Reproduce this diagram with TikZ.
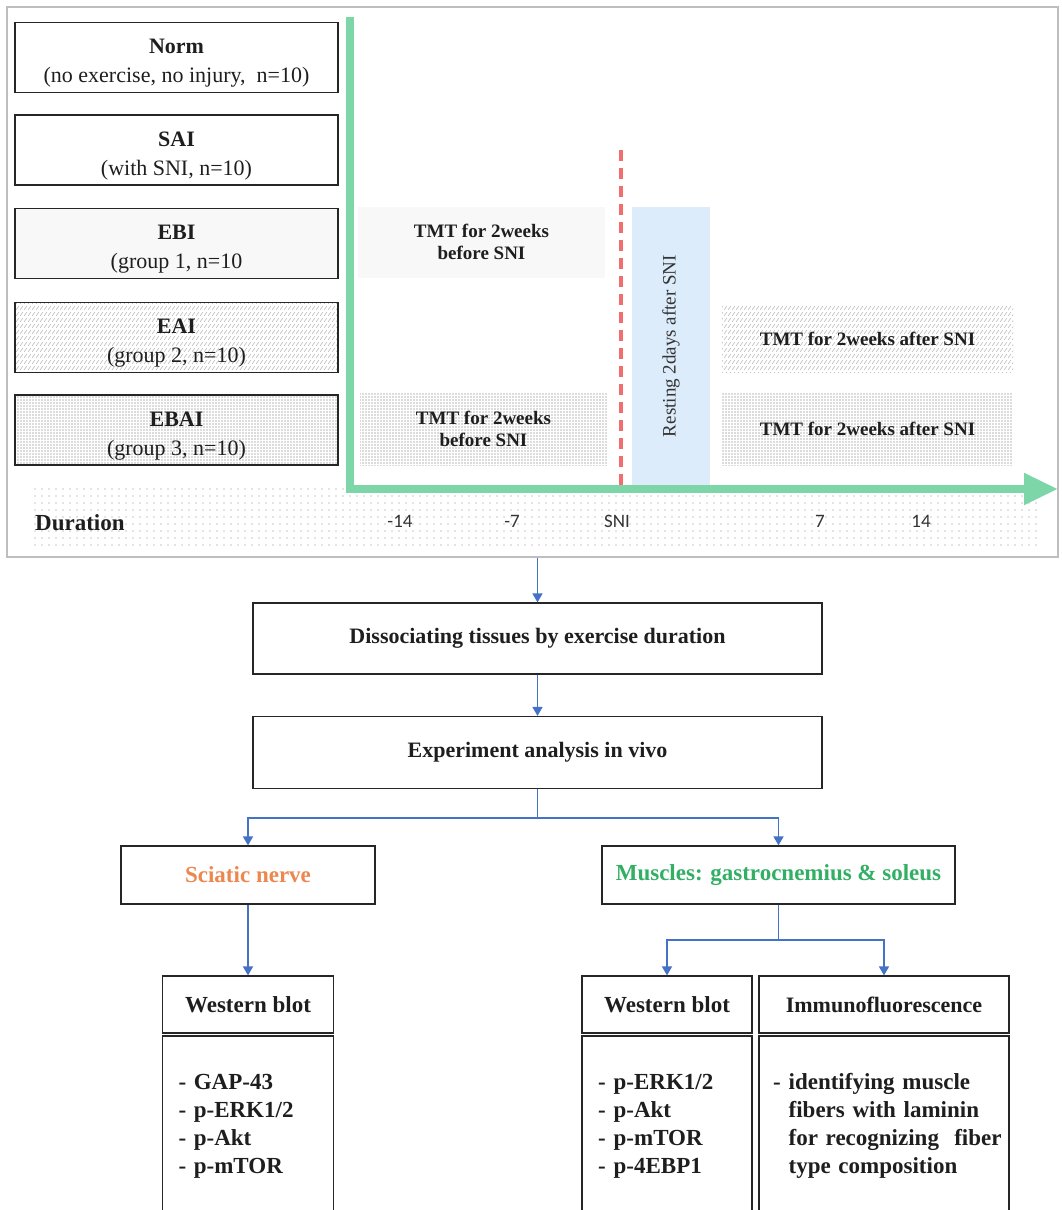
\documentclass[tikz,border=0pt]{standalone}
\usepackage{fontspec}
\setmainfont{Liberation Serif}[BoldFont={Liberation Serif Bold}]
\newfontfamily\axisfont{Carlito}
\usetikzlibrary{patterns,patterns.meta,arrows.meta}
\definecolor{axisgreen}{RGB}{125,214,168}
\definecolor{dashred}{RGB}{240,110,110}
\definecolor{restblue}{RGB}{220,236,250}
\definecolor{arrowblue}{RGB}{68,114,196}
\definecolor{framegray}{RGB}{190,190,190}
\definecolor{nerveorange}{RGB}{236,135,80}
\definecolor{musclegreen}{RGB}{50,175,100}
\definecolor{inkc}{RGB}{30,30,30}
\pgfdeclarepatternformonly{rowhatch}{\pgfqpoint{-1pt}{-1pt}}{\pgfqpoint{6pt}{8pt}}{\pgfqpoint{4pt}{6pt}}{%
  \pgfsetlinewidth{0.5pt}%
  \pgfpathmoveto{\pgfqpoint{0pt}{0pt}}%
  \pgfpathlineto{\pgfqpoint{3pt}{4pt}}%
  \pgfusepath{stroke}}
\begin{document}
\begin{tikzpicture}[x=1pt,y=-1pt,
  grp/.style={draw=black!85, line width=1.3pt, minimum width=323pt, minimum height=70pt, inner sep=0pt},
  grptxt/.style={inner sep=0pt, align=center, text=inkc, font=\fontsize{22}{29}\selectfont},
  period/.style={inner sep=0pt, align=center, text=inkc, font=\fontsize{19}{22}\selectfont\bfseries},
  flowbox/.style={draw=black!85, line width=1.2pt, inner sep=0pt, align=center, text=inkc, font=\fontsize{22}{26}\selectfont\bfseries},
  bigflow/.style={flowbox, font=\fontsize{23}{26}\selectfont\bfseries},
  listbox/.style={draw=black!85, line width=1.2pt, inner ysep=0pt, align=left, text=inkc, font=\fontsize{23}{28}\selectfont\bfseries},
  flow/.style={arrowblue, line width=1.5pt},
  flowarrow/.style={flow, -{Triangle[width=10pt,length=9pt]}},
  axislabel/.style={font=\axisfont\fontsize{19}{22}\selectfont, text=black!80, inner sep=0pt},
  finedots/.style={pattern={Dots[distance=2pt,radius=0.45pt]}, pattern color=black!35},
  densedots/.style={pattern={Dots[distance=3pt,radius=0.65pt]}, pattern color=black!60},
  hatchrows/.style={pattern=rowhatch, pattern color=black!30}
]
\useasboundingbox (0,0) rectangle (1062,1210);

% frame of the timeline panel
\node[draw=framegray, line width=1.3pt, minimum width=1051pt, minimum height=550pt, inner sep=0pt] (frame) at (532.5,282) {};

% duration band
\node[minimum width=1007pt, minimum height=60pt, inner sep=0pt, pattern={Dots[distance=7pt,radius=0.7pt]}, pattern color=black!45] (durband) at (536.5,518) {};
\node[anchor=west, inner sep=0pt, text=inkc, font=\fontsize{23}{26}\selectfont\bfseries] (durlbl) at (35,523) {Duration};

% groups
\node[grp] (norm) at (176.5,57.5) {};
\node[grp] (sai) at (176.5,150) {};
\node[grp, finedots] (ebi) at (176.5,243.5) {};
\node[grp, hatchrows] (eai) at (176.5,337.5) {};
\node[grp, densedots] (ebai) at (176.5,430) {};
\node[grptxt] (normtxt) at ([yshift=-6pt]norm.center) {\textbf{Norm}\\(no exercise, no injury,~ n=10)};
\node[grptxt] (saitxt) at ([yshift=-6pt]sai.center) {\textbf{SAI}\\(with SNI, n=10)};
\node[grptxt] (ebitxt) at ([yshift=-6pt]ebi.center) {\textbf{EBI}\\(group 1, n=10};
\node[grptxt] (eaitxt) at ([yshift=-6pt]eai.center) {\textbf{EAI}\\(group 2, n=10)};
\node[grptxt] (ebaitxt) at ([yshift=-6pt]ebai.center) {\textbf{EBAI}\\(group 3, n=10)};

% periods
\node[period, finedots, minimum width=247pt, minimum height=70pt] (tmt1) at (481.5,242) {TMT for 2weeks\\before SNI};
\node[period, hatchrows, minimum width=291pt, minimum height=67pt] (tmt2) at (867.5,338.5) {TMT for 2weeks after SNI};
\node[period, densedots, minimum width=247pt, minimum height=73pt] (tmt3) at (483.5,428.5) {TMT for 2weeks\\before SNI};
\node[period, densedots, minimum width=291pt, minimum height=73pt] (tmt4) at (867.5,428.5) {TMT for 2weeks after SNI};
\node[fill=restblue, minimum width=78pt, minimum height=278pt, inner sep=0pt] (rest) at (671,346) {};
\node[rotate=90, inner sep=0pt, text=black!80, font=\fontsize{19}{22}\selectfont] (restlbl) at (rest.center) {Resting 2days after SNI};

% axes
\coordinate (ytop) at (350,17);
\coordinate (orig) at (350,489);
\coordinate (xend) at (1058,489);
\draw[axisgreen, line width=8pt, line join=miter, -{Triangle[width=30pt,length=34pt]}] (ytop) -- (orig) -- (xend);
\coordinate (snitop) at (621,150);
\coordinate (snibot) at (621,489);
\draw[dashred, line width=4pt, dash pattern=on 11pt off 7pt] (snitop) -- (snibot);

% axis labels
\node[axislabel] (t14m) at (400,521) {-14};
\node[axislabel] (t7m) at (512,521) {-7};
\node[axislabel] (tsni) at (617,521) {SNI};
\node[axislabel] (t7) at (820,521) {7};
\node[axislabel] (t14) at (921,521) {14};

% flow
\node[flowbox, minimum width=569pt, minimum height=71pt] (diss) at (537.5,638.5) {Dissociating tissues by exercise duration};
\node[flowbox, minimum width=569pt, minimum height=72pt] (exper) at (537.5,752.5) {Experiment analysis in vivo};
\coordinate (fbot) at (537.5,557.7);
\draw[flowarrow] (fbot) -- (diss.north);
\draw[flowarrow] (diss.south) -- (exper.north);

\node[bigflow, minimum width=254pt, minimum height=58pt, text=nerveorange] (sciatic) at (248,875) {Sciatic nerve};
\node[bigflow, minimum width=353pt, minimum height=58pt, text=musclegreen] (muscles) at (778.5,875) {Muscles: gastrocnemius \& soleus};
\coordinate (split1) at (537.5,818);
\draw[flow] (exper.south) -- (split1);
\draw[flowarrow] (split1) -| (sciatic.north);
\draw[flowarrow] (split1) -| (muscles.north);

\node[bigflow, minimum width=171pt, minimum height=57pt] (wb1) at (248,1004.5) {Western blot};
\node[listbox, text width=139pt, minimum height=180pt, inner xsep=16pt] (wb1list) at (248,1126) {- GAP-43\\- p-ERK1/2\\- p-Akt\\- p-mTOR};
\draw[flowarrow] (sciatic.south) -- (wb1.north);

\node[bigflow, minimum width=170pt, minimum height=57pt] (wb2) at (667,1004.5) {Western blot};
\node[flowbox, minimum width=250pt, minimum height=57pt] (imm) at (884,1004.5) {Immunofluorescence};
\node[listbox, text width=138pt, minimum height=180pt, inner xsep=16pt] (wb2list) at (667,1126) {\begin{tabular}{@{}l@{\hspace{8pt}}l@{}}-&p-ERK1/2\\-&p-Akt\\-&p-mTOR\\-&p-4EBP1\end{tabular}};
\node[listbox, text width=222pt, minimum height=180pt, inner xsep=14pt] (immlist) at (884,1126) {\begin{tabular}{@{}l@{\hspace{8pt}}l@{}}-&identifying muscle\\&fibers with laminin\\&for recognizing~ fiber\\&type composition\end{tabular}};
\coordinate (split2) at (778.5,940);
\draw[flow] (muscles.south) -- (split2);
\draw[flowarrow] (split2) -| (wb2.north);
\draw[flowarrow] (split2) -| (imm.north);
\end{tikzpicture}
\end{document}
